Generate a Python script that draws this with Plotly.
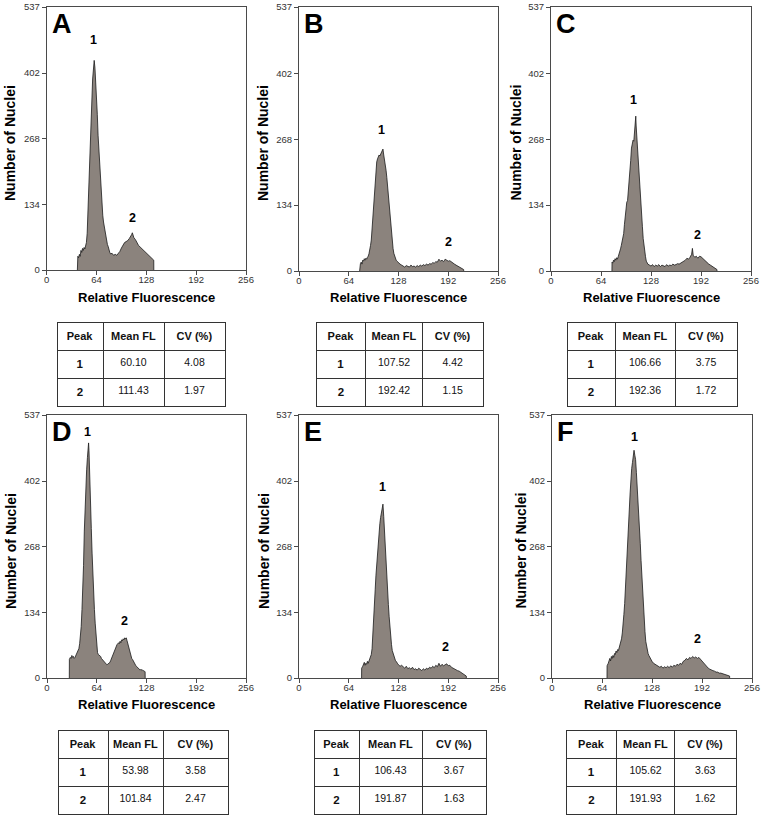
import plotly.graph_objects as go

# ---------------- data ----------------
X_TICKS = [0, 64, 128, 192, 256]
Y_TICKS = [0, 134, 268, 402, 537]
TABLE_HEADER = ["Peak", "Mean FL", "CV (%)"]
PEAK_IDS = ["1", "2"]

A_channel = [
    39.4, 39.5, 40, 41, 42, 43, 44, 45, 46, 47,
    48, 49, 50, 51, 52, 53, 54, 55, 56, 57,
    58, 59, 60, 61, 62, 63, 64, 65, 66, 67,
    68, 69, 70, 71, 72, 73, 74, 75, 76, 77,
    78, 79, 80, 81, 82, 84, 86, 88, 90, 92,
    94, 96, 98, 100, 102, 104, 106, 108, 109, 110,
    111, 112, 114, 116, 118, 120, 122, 124, 126, 128,
    130, 132, 134, 136, 137.5, 137.6]
A_count = [
    0, 22, 28, 25, 32, 28, 40, 36, 44, 40,
    46, 43, 50, 56, 75, 115, 150, 200, 250, 300,
    345, 390, 420, 428, 412, 385, 355, 318, 275, 245,
    210, 175, 150, 128, 112, 98, 88, 80, 75, 62,
    52, 48, 40, 36, 33, 34, 30, 32, 30, 34,
    38, 45, 50, 56, 58, 60, 64, 68, 72, 76,
    70, 66, 62, 55, 50, 47, 44, 40, 36, 34,
    30, 28, 25, 22, 20, 0]

B_channel = [
    78, 78.1, 79, 80, 81, 82, 83, 84, 85, 86,
    87, 88, 89, 90, 91, 92, 93, 94, 95, 96,
    97, 98, 99, 100, 101, 102, 103, 104, 105, 106,
    107, 108, 109, 110, 111, 112, 113, 114, 115, 116,
    117, 118, 119, 120, 121, 122, 123, 124, 125, 126,
    127, 128, 130, 132, 134, 136, 138, 140, 142, 144,
    146, 148, 150, 152, 154, 156, 158, 160, 162, 164,
    166, 168, 170, 172, 174, 176, 178, 180, 182, 184,
    186, 188, 190, 192, 194, 196, 198, 200, 202, 204,
    206, 208, 210, 211.8, 211.9]
B_count = [
    0, 12, 15, 18, 14, 22, 20, 25, 22, 26,
    24, 28, 30, 35, 42, 52, 63, 85, 108, 135,
    165, 190, 212, 222, 228, 232, 236, 234, 238, 240,
    242, 248, 236, 228, 220, 205, 190, 172, 150, 128,
    105, 85, 70, 56, 46, 36, 30, 26, 22, 20,
    18, 16, 14, 12, 10, 8, 11, 9, 8, 12,
    9, 10, 8, 11, 9, 12, 10, 13, 11, 14,
    12, 15, 14, 17, 16, 19, 18, 24, 20, 22,
    19, 24, 22, 20, 21, 18, 15, 14, 12, 10,
    8, 6, 4, 3, 0]

C_channel = [
    78, 78.1, 79, 80, 81, 82, 83, 84, 85, 86,
    87, 88, 89, 90, 91, 92, 93, 94, 95, 96,
    97, 98, 99, 100, 101, 102, 103, 104, 105, 106,
    107, 108, 108.5, 109, 110, 111, 112, 113, 114, 115,
    116, 117, 118, 119, 120, 121, 122, 123, 124, 126,
    128, 130, 132, 134, 136, 138, 140, 142, 144, 146,
    148, 150, 152, 154, 156, 158, 160, 162, 164, 166,
    168, 170, 172, 174, 176, 178, 180, 181, 182, 184,
    186, 188, 190, 192, 194, 196, 198, 200, 202, 204,
    206, 208, 210, 212.4, 212.5]
C_count = [
    0, 18, 16, 22, 19, 25, 22, 27, 24, 29,
    33, 38, 45, 52, 60, 68, 76, 95, 112, 132,
    140, 143, 160, 180, 200, 225, 250, 263, 266, 264,
    280, 305, 315, 295, 266, 240, 214, 188, 162, 138,
    114, 90, 66, 50, 38, 29, 20, 15, 14, 12,
    10, 13, 9, 12, 10, 13, 9, 12, 11, 9,
    13, 10, 12, 11, 14, 12, 13, 15, 14, 16,
    18, 20, 22, 26, 24, 28, 34, 46, 32, 28,
    30, 26, 30, 29, 26, 22, 18, 15, 14, 12,
    10, 7, 5, 3, 0]

D_channel = [
    28.7, 28.8, 30, 31, 32, 33, 34, 35, 36, 37,
    38, 39, 40, 41, 42, 43, 44, 45, 46, 47,
    48, 49, 50, 51, 52, 53, 53.5, 54, 55, 56,
    57, 58, 59, 60, 61, 62, 63, 64, 65, 66,
    67, 68, 69, 70, 71, 72, 73, 74, 75, 76,
    77, 78, 79, 80, 81, 82, 83, 84, 85, 86,
    87, 88, 89, 90, 91, 92, 93, 94, 95, 96,
    97, 98, 99, 100, 101, 102, 103, 104, 105, 106,
    107, 108, 109, 110, 111, 112, 113, 114, 115, 116,
    117, 118, 119, 120, 121, 122, 123, 124, 125, 126.2,
    126.3]
D_count = [
    0, 38, 42, 40, 46, 42, 44, 40, 42, 46,
    48, 52, 55, 60, 70, 85, 105, 140, 178, 230,
    300, 350, 395, 425, 450, 472, 480, 465, 425, 365,
    305, 255, 205, 170, 140, 112, 90, 70, 52, 48,
    47, 45, 44, 40, 38, 36, 34, 32, 30, 28,
    27, 28, 29, 30, 32, 36, 40, 45, 50, 55,
    60, 64, 66, 68, 70, 72, 70, 75, 72, 78,
    76, 80, 78, 82, 80, 82, 76, 70, 65, 55,
    48, 44, 40, 38, 34, 32, 30, 26, 24, 22,
    20, 18, 17, 16, 18, 15, 16, 14, 14, 13,
    0]

E_channel = [
    80.5, 80.6, 82, 83, 84, 85, 86, 87, 88, 89,
    90, 91, 92, 93, 94, 95, 96, 97, 98, 99,
    100, 101, 102, 103, 104, 105, 106, 107, 108, 109,
    110, 111, 112, 113, 114, 115, 116, 117, 118, 119,
    120, 121, 122, 123, 124, 125, 126, 127, 128, 130,
    132, 134, 136, 138, 140, 142, 144, 146, 148, 150,
    152, 154, 156, 158, 160, 162, 164, 166, 168, 170,
    172, 174, 176, 178, 180, 182, 184, 186, 188, 190,
    192, 194, 196, 198, 200, 202, 204, 206, 208, 210,
    212, 214, 215.2, 215.3]
E_count = [
    0, 20, 24, 28, 32, 26, 30, 28, 34, 30,
    35, 36, 40, 48, 60, 85, 115, 145, 180, 210,
    235, 258, 280, 298, 315, 328, 340, 348, 355, 330,
    295, 262, 232, 205, 178, 150, 125, 102, 82, 68,
    56, 50, 45, 40, 36, 34, 30, 29, 27, 24,
    26, 22, 20, 24, 19, 21, 18, 22, 17, 19,
    16, 20, 17, 15, 19, 16, 20, 18, 22, 20,
    24, 21, 26, 23, 30, 24, 28, 25, 27, 29,
    25, 26, 22, 20, 19, 17, 15, 14, 12, 10,
    8, 5, 4, 0]

F_channel = [
    70.4, 70.5, 72, 73, 74, 75, 76, 77, 78, 79,
    80, 81, 82, 83, 84, 85, 86, 87, 88, 89,
    90, 91, 92, 93, 94, 95, 96, 97, 98, 99,
    100, 101, 102, 103, 104, 105, 106, 107, 108, 109,
    110, 111, 112, 113, 114, 115, 116, 117, 118, 119,
    120, 121, 122, 123, 124, 125, 126, 127, 128, 130,
    132, 134, 136, 138, 140, 142, 144, 146, 148, 150,
    152, 154, 156, 158, 160, 162, 164, 166, 168, 170,
    172, 174, 176, 178, 180, 182, 184, 186, 188, 190,
    192, 194, 196, 198, 200, 202, 204, 206, 208, 210,
    212, 214, 216, 218, 220, 222, 224, 226, 227.3, 227.4]
F_count = [
    0, 25, 30, 36, 40, 35, 44, 40, 46, 42,
    50, 48, 55, 52, 58, 56, 62, 64, 70, 80,
    92, 106, 130, 152, 180, 210, 245, 275, 310, 345,
    378, 410, 428, 440, 450, 465, 455, 446, 420, 395,
    365, 335, 305, 275, 240, 205, 175, 148, 118, 95,
    75, 65, 56, 50, 46, 42, 40, 37, 34, 30,
    28, 26, 24, 22, 24, 20, 23, 21, 24, 21,
    25, 22, 26, 24, 28, 26, 30, 28, 34, 36,
    40, 37, 42, 40, 44, 41, 43, 40, 42, 38,
    36, 32, 27, 24, 20, 18, 16, 15, 14, 12,
    12, 10, 10, 9, 8, 7, 6, 5, 4, 0]

# table values: mean FL and CV (%) for peaks 1 and 2
A_mean = [60.10, 111.43];  A_cv = [4.08, 1.97]
B_mean = [107.52, 192.42]; B_cv = [4.42, 1.15]
C_mean = [106.66, 192.36]; C_cv = [3.75, 1.72]
D_mean = [53.98, 101.84];  D_cv = [3.58, 2.47]
E_mean = [106.43, 191.87]; E_cv = [3.67, 1.63]
F_mean = [105.62, 191.93]; F_cv = [3.63, 1.62]

# ---------------- layout helpers ----------------
W, H = 764, 817
FONT = "Liberation Sans, Arial, Helvetica, sans-serif"
FILL = "#8b837d"
LINE = "#1a1a1a"
FRAME = "#4a4a4a"


def fx(px):
    return px / W


def fy(py):
    return 1 - py / H


panels = [
    dict(letter="A", ch=A_channel, ct=A_count, mean=A_mean, cv=A_cv,
         xpx=(46.7, 246), ypx=(7, 270), lab=[(59.5, 470), (110.8, 106)],
         tx=(57, 225), ty=322, colw=[46, 61, 61], xt=(146.5, 297), yt=(10, 143)),
    dict(letter="B", ch=B_channel, ct=B_count, mean=B_mean, cv=B_cv,
         xpx=(299, 498), ypx=(7, 271), lab=[(105.5, 287), (191.7, 59)],
         tx=(316, 484), ty=322, colw=[50, 57, 61], xt=(398.5, 297), yt=(263, 143)),
    dict(letter="C", ch=C_channel, ct=C_count, mean=C_mean, cv=C_cv,
         xpx=(551, 751), ypx=(7, 271), lab=[(105, 348), (186.9, 73)],
         tx=(567, 737), ty=322, colw=[48, 60, 62], xt=(651, 297), yt=(515.5, 143)),
    dict(letter="D", ch=D_channel, ct=D_count, mean=D_mean, cv=D_cv,
         xpx=(47, 246), ypx=(415, 678), lab=[(52.7, 502), (100.3, 116)],
         tx=(58, 228), ty=730, colw=[50, 55, 65], xt=(146.5, 704), yt=(11, 551)),
    dict(letter="E", ch=E_channel, ct=E_count, mean=E_mean, cv=E_cv,
         xpx=(299, 498), ypx=(415, 678), lab=[(106.8, 390), (189, 63)],
         tx=(314, 486), ty=730, colw=[45, 63, 64], xt=(398.5, 704), yt=(264, 551)),
    dict(letter="F", ch=F_channel, ct=F_count, mean=F_mean, cv=F_cv,
         xpx=(552, 752), ypx=(415, 678), lab=[(105, 492), (185.6, 80)],
         tx=(566, 737), ty=730, colw=[51, 58, 62], xt=(652, 704), yt=(520.5, 551)),
]

fig = go.Figure()
layout = dict(
    width=W, height=H, margin=dict(l=0, r=0, t=0, b=0, autoexpand=False),
    paper_bgcolor="white", plot_bgcolor="white", showlegend=False,
    font=dict(family=FONT, color="#222"),
)
annotations = []

for i, p in enumerate(panels, start=1):
    assert len(p["ch"]) == len(p["ct"]), p["letter"]
    sfx = "" if i == 1 else str(i)
    xa, ya = "x" + sfx, "y" + sfx
    fig.add_trace(go.Scatter(
        x=p["ch"], y=p["ct"], xaxis=xa, yaxis=ya, mode="lines",
        fill="tozeroy", fillcolor=FILL, line=dict(color=LINE, width=0.8),
        hoverinfo="skip"))
    common = dict(showline=True, linecolor=FRAME, linewidth=1, mirror=True,
                  showgrid=False, zeroline=False, ticks="outside", ticklen=4,
                  tickwidth=1, tickcolor=FRAME,
                  tickfont=dict(family=FONT, size=9.5, color="#333"))
    layout["xaxis" + sfx] = dict(
        common, domain=[fx(p["xpx"][0]), fx(p["xpx"][1])], anchor=ya,
        range=[0, 256], tickvals=X_TICKS, ticktext=[str(v) for v in X_TICKS],
        ticklabelstandoff=-3)
    layout["yaxis" + sfx] = dict(
        common, domain=[fy(p["ypx"][1]), fy(p["ypx"][0])], anchor=xa,
        range=[0, 537], tickvals=Y_TICKS, ticktext=[str(v) for v in Y_TICKS])

    # panel letter
    annotations.append(dict(
        text="<b>%s</b>" % p["letter"], xref="paper", yref="paper",
        x=fx(p["xpx"][0] + 3), y=fy(p["ypx"][0] + 17), xanchor="left",
        yanchor="middle", showarrow=False,
        font=dict(family=FONT, size=27, color="black")))
    # peak labels
    for pid, (lx, ly) in zip(PEAK_IDS, p["lab"]):
        annotations.append(dict(
            text="<b>%s</b>" % pid, xref=xa, yref=ya, x=lx, y=ly,
            showarrow=False, xanchor="center", yanchor="middle",
            font=dict(family=FONT, size=12.5, color="black")))
    # axis titles
    annotations.append(dict(
        text="<b>Relative Fluorescence</b>", xref="paper", yref="paper",
        x=fx(p["xt"][0]), y=fy(p["xt"][1]), xanchor="center", yanchor="middle",
        showarrow=False, font=dict(family=FONT, size=13, color="black")))
    annotations.append(dict(
        text="<b>Number of Nuclei</b>", xref="paper", yref="paper",
        x=fx(p["yt"][0]), y=fy(p["yt"][1]), xanchor="center", yanchor="middle",
        textangle=-90, showarrow=False,
        font=dict(family=FONT, size=14, color="black")))

    # table
    fig.add_trace(go.Table(
        domain=dict(x=[fx(p["tx"][0]), fx(p["tx"][1])],
                    y=[max(0, fy(p["ty"] + 92)), fy(p["ty"])]),
        columnwidth=p["colw"],
        header=dict(values=["<b>%s</b>" % h.replace(" ", "\u00a0") for h in TABLE_HEADER],
                    height=24, align="center",
                    line=dict(color="#333", width=1), fill=dict(color="white"),
                    font=dict(family=FONT, size=11, color="#111")),
        cells=dict(values=[["<b>%s</b>" % s for s in PEAK_IDS],
                           ["%.2f" % v for v in p["mean"]],
                           ["%.2f" % v for v in p["cv"]]],
                   height=25, align="center",
                   line=dict(color="#333", width=1), fill=dict(color="white"),
                   font=dict(family=FONT, size=[11.5, 10.5, 10.5], color="#111")),
    ))

layout["annotations"] = annotations
fig.update_layout(**layout)
fig.write_html(
    "out.html",
    config={"displayModeBar": False},
    post_script="document.body.style.margin='0';"
                "document.documentElement.style.overflow='hidden';")
